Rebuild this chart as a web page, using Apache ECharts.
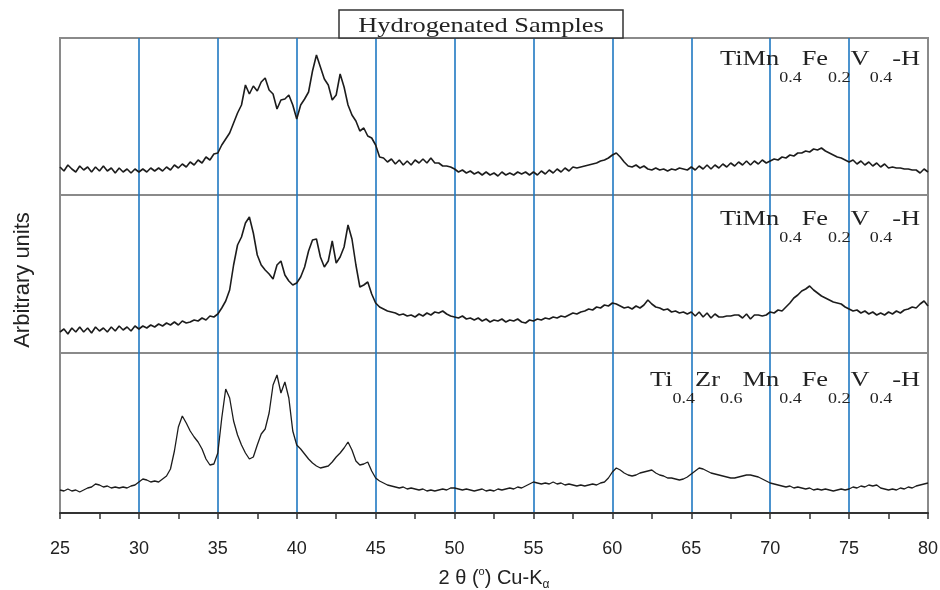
<!DOCTYPE html>
<html>
<head>
<meta charset="utf-8">
<script src="https://cdn.jsdelivr.net/npm/echarts@6/dist/echarts.min.js"></script>
<style>
  html, body { margin: 0; padding: 0; background: #fff; }
  #chart { width: 940px; height: 590px; }
</style>
</head>
<body>
<div id="chart"></div>
<script>
// 2θ sampling of the scans (every 0.25 deg, 25 -> 80)
const twoTheta = [];
for (let i = 0; i <= 220; i++) twoTheta.push(25 + i * 0.25);

const xTicks = [25, 30, 35, 40, 45, 50, 55, 60, 65, 70, 75, 80];

// intensities (arbitrary units, per panel)
const topScan = [
  28,24,30,26,23,29,25,28,23,28,24,29,24,27,22,27,23,26,22,26,
  23,26,23,27,24,27,24,28,25,30,27,31,28,33,30,35,32,38,35,41,
  42,50,56,62,72,82,90,110,101,109,104,113,117,105,101,86,95,96,100,90,
  76,90,96,103,124,140,128,116,110,95,100,121,108,90,80,74,64,67,59,57,
  50,38,37,33,36,31,35,30,34,30,35,32,36,32,37,32,32,29,29,28,
  26,23,25,22,24,21,23,20,23,20,22,19,23,20,22,20,23,21,23,20,
  23,20,24,21,25,22,26,23,27,24,28,27,28,29,30,31,32,34,35,37,
  40,42,38,33,29,28,30,27,29,26,25,27,25,26,24,26,25,27,26,25,
  28,25,29,26,30,26,30,27,31,28,32,29,33,30,34,30,34,31,35,32,
  34,36,35,38,37,40,39,42,42,44,43,46,45,47,44,42,40,38,37,35,
  33,35,31,34,30,33,29,32,28,31,27,28,27,27,26,26,25,25,22,26,23
];

const midScan = [
  21,24,19,25,21,26,21,25,20,26,22,25,21,26,22,27,23,26,22,27,
  24,27,25,28,26,29,27,30,28,31,28,32,30,31,33,32,35,33,37,36,
  39,45,52,63,88,108,116,130,136,120,98,88,83,79,74,88,92,78,72,68,
  70,76,86,102,113,114,96,86,92,112,90,96,106,128,114,88,66,68,71,59,
  50,46,44,42,41,40,38,39,37,38,36,39,37,40,38,41,40,42,39,37,
  36,35,37,34,35,33,35,32,34,31,33,32,34,31,33,32,34,31,30,33,
  32,34,33,35,34,36,35,37,36,38,40,39,41,42,44,43,46,45,48,47,
  50,49,47,45,46,44,47,45,48,53,49,46,45,43,44,41,42,40,41,39,
  41,37,41,36,40,35,39,36,36,37,37,38,38,35,39,34,38,38,37,38,
  41,40,43,42,46,50,55,58,62,64,67,63,60,57,55,53,51,50,49,46,
  44,42,43,40,42,39,41,38,40,38,41,39,42,40,43,44,46,45,49,52,47
];

const botScan = [
  23,22,24,22,23,21,23,25,26,29,28,26,27,25,26,25,26,25,27,28,
  31,34,33,31,32,31,34,37,44,62,86,97,90,82,76,71,64,54,48,49,
  60,95,124,115,92,78,68,60,54,56,68,79,84,100,128,138,120,131,115,82,
  68,64,59,54,50,47,45,46,47,51,56,60,65,71,63,52,48,49,51,42,
  35,32,30,28,27,26,25,26,24,25,24,23,24,22,23,22,23,24,23,25,
  25,24,23,24,23,22,23,24,22,23,22,24,23,24,25,24,26,25,27,29,
  31,30,29,30,29,31,29,30,28,29,28,27,28,27,28,29,28,30,31,35,
  41,45,43,40,38,37,38,40,41,42,43,40,38,37,35,35,34,33,34,36,
  39,42,45,44,42,40,39,38,37,36,35,35,36,37,38,38,37,36,34,32,
  30,29,28,27,26,27,25,26,25,24,25,23,24,23,24,23,22,23,24,23,
  24,26,25,27,26,28,27,28,25,24,23,24,23,25,24,26,25,27,28,29,30
];

const chartTitle = 'Hydrogenated Samples';
const yName = 'Arbitrary units';
// sample labels, [text, subscript] pieces
const sampleLabels = [
  [['TiMn', '0.4'], ['Fe', '0.2'], ['V', '0.4'], ['-H', '']],
  [['TiMn', '0.4'], ['Fe', '0.2'], ['V', '0.4'], ['-H', '']],
  [['Ti', '0.4'], ['Zr', '0.6'], ['Mn', '0.4'], ['Fe', '0.2'], ['V', '0.4'], ['-H', '']]
];

const scans = [topScan, midScan, botScan];
const panels = [
  { top: 38, height: 157 },
  { top: 195, height: 158 },
  { top: 353, height: 160 }
];

const serif = '"Liberation Serif", "DejaVu Serif", serif';
const sans = '"Liberation Sans", Arial, sans-serif';

const toRich = (parts) => parts
  .map(([t, s]) => `{m|${t}}` + (s ? `{s|${s}}` : ''))
  .join('');

const chart = echarts.init(document.getElementById('chart'), null, { renderer: 'canvas' });

const grids = panels.map((p) => ({
  left: 60,
  right: 12,
  top: p.top,
  height: p.height,
  outerBoundsMode: 'none',
  show: true,
  borderColor: '#8a8a8a',
  borderWidth: 2,
  backgroundColor: 'transparent'
}));

const xAxes = panels.map((p, i) => {
  const last = i === panels.length - 1;
  return {
    type: 'value',
    gridIndex: i,
    min: xTicks[0],
    max: xTicks[xTicks.length - 1],
    interval: 5,
    axisLine: { show: last, onZero: false, lineStyle: { color: '#333', width: 2 } },
    axisTick: { show: last, inside: false, length: 6, lineStyle: { color: '#333', width: 1.5 } },
    minorTick: { show: last, splitNumber: 2, length: 6, lineStyle: { color: '#333', width: 1.5 } },
    axisLabel: {
      show: last,
      margin: 27,
      fontFamily: sans,
      fontSize: 18,
      color: '#222'
    },
    splitLine: {
      show: true,
      showMinLine: false,
      showMaxLine: false,
      lineStyle: { color: '#1f78c2', width: 1.6 }
    },
    name: last ? '2 θ ({sup|o}) Cu-K{sub|α}' : '',
    nameLocation: 'middle',
    nameGap: 55,
    nameTextStyle: {
      fontFamily: sans,
      fontSize: 20,
      color: '#222',
      rich: {
        sup: { fontFamily: sans, fontSize: 11, lineHeight: 11, padding: [0, 0, 12, 0], color: '#222' },
        sub: { fontFamily: sans, fontSize: 12, lineHeight: 12, padding: [14, 0, 0, 0], color: '#222' }
      }
    }
  };
});

const yAxes = panels.map((p, i) => ({
  type: 'value',
  gridIndex: i,
  min: 0,
  max: p.height,
  show: false,
  splitLine: { show: false }
}));

const series = scans.map((scan, i) => ({
  type: 'line',
  xAxisIndex: i,
  yAxisIndex: i,
  showSymbol: false,
  data: twoTheta.map((x, k) => [x, scan[k]]),
  lineStyle: { color: '#1c1c1c', width: i < 2 ? 1.6 : 1.3 },
  z: 3
}));

const labelY = [48, 208, 369];
const labelGraphics = sampleLabels.map((parts, i) => ({
  type: 'text',
  x: 920,
  y: labelY[i],
  scaleX: 1.2,
  z: 10,
  style: {
    text: toRich(parts),
    align: 'right',
    textAlign: 'right',
    verticalAlign: 'top',
    textVerticalAlign: 'top',
    rich: {
      m: { fontFamily: serif, fontSize: 22, lineHeight: 24, verticalAlign: 'top', fill: '#222' },
      s: { fontFamily: serif, fontSize: 15, lineHeight: 15, padding: [23, 0, 0, 0], verticalAlign: 'top', fill: '#222' }
    }
  }
}));

chart.setOption({
  animation: false,
  backgroundColor: '#fff',
  grid: grids,
  xAxis: xAxes,
  yAxis: yAxes,
  series: series,
  graphic: [
    {
      type: 'rect',
      shape: { x: 339, y: 10, width: 284, height: 28 },
      style: { fill: '#fff', stroke: '#333', lineWidth: 1.5 },
      z: 9
    },
    {
      type: 'text',
      x: 481,
      y: 26,
      scaleX: 1.2,
      z: 10,
      style: {
        text: chartTitle,
        font: '22px ' + serif,
        fill: '#222',
        align: 'center',
        textAlign: 'center',
        verticalAlign: 'middle',
        textVerticalAlign: 'middle'
      }
    },
    {
      type: 'text',
      x: 23,
      y: 280,
      rotation: Math.PI / 2,
      z: 10,
      style: {
        text: yName,
        font: '22px ' + sans,
        fill: '#222',
        align: 'center',
        textAlign: 'center',
        verticalAlign: 'middle',
        textVerticalAlign: 'middle'
      }
    }
  ].concat(labelGraphics)
});

window.addEventListener('resize', () => chart.resize());
</script>
</body>
</html>
